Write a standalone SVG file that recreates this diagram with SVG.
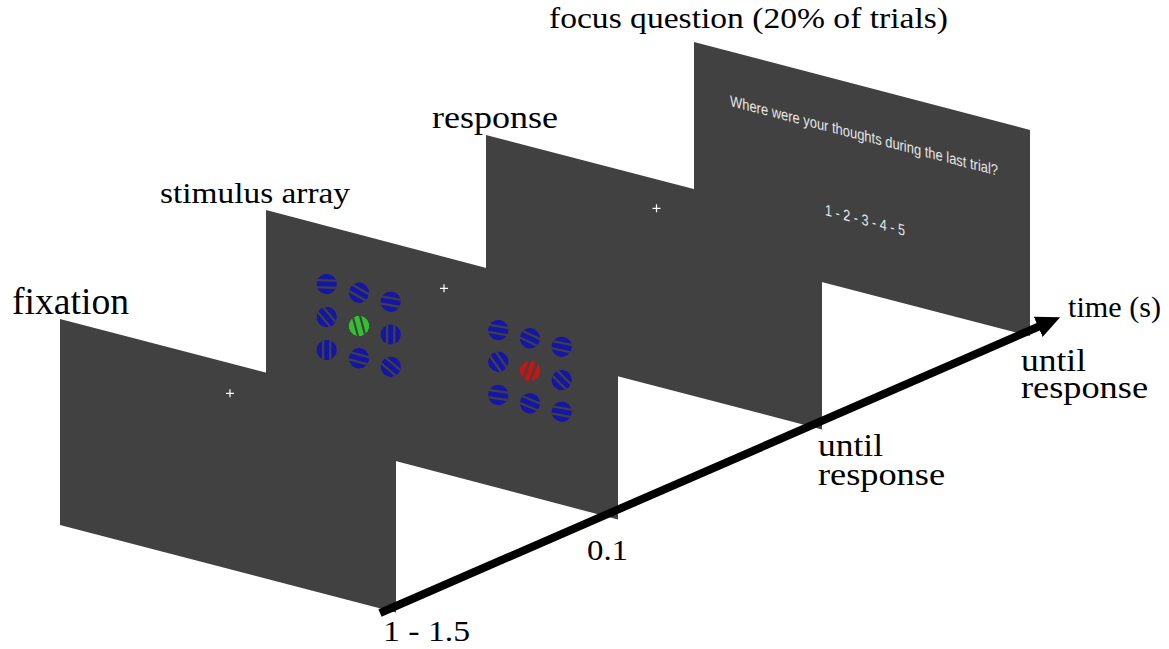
<svg xmlns="http://www.w3.org/2000/svg" width="1169" height="649" viewBox="0 0 1169 649">
<style>
.panel{fill:#414141}
.lbl{font-family:"Liberation Serif","Times New Roman",serif;fill:#000}
.scr{font-family:"Liberation Sans",Arial,sans-serif;fill:#e6e6e6}
.cross{stroke:#ffffff;stroke-width:1.2;fill:none}
</style>
<defs>
<clipPath id="cc"><circle r="10.3"/></clipPath>
<g id="gb" clip-path="url(#cc)"><circle r="10.3" fill="#1616a6"/><path d="M-11,-3.6H11M-11,3.6H11" stroke="#414141" stroke-width="2.2"/></g>
<g id="gg" clip-path="url(#cc)"><circle r="10.3" fill="#30c030"/><path d="M-11,-3.6H11M-11,3.6H11" stroke="#414141" stroke-width="2.2"/></g>
<g id="gr" clip-path="url(#cc)"><circle r="10.3" fill="#c81414"/><path d="M-11,-3.6H11M-11,3.6H11" stroke="#414141" stroke-width="2.6"/></g>
<marker id="ah" markerUnits="userSpaceOnUse" markerWidth="26" markerHeight="24" refX="2" refY="11" orient="auto"><path d="M0,0L24,11L0,22z" fill="#000"/></marker>
</defs>

<g id="focus-question">
<polygon class="panel" points="694,42 1030,130 1030,336 694,249"/>
<text class="scr" font-size="15.5" transform="translate(730,106) skewY(14.6)" textLength="268" lengthAdjust="spacingAndGlyphs">Where were your thoughts during the last trial?</text>
<text class="scr" font-size="15.5" transform="translate(825,215) skewY(14.6)" textLength="80" lengthAdjust="spacingAndGlyphs">1 - 2 - 3 - 4 - 5</text>
<text class="lbl" x="549" y="28" font-size="30" textLength="399" lengthAdjust="spacingAndGlyphs">focus question (20% of trials)</text>
</g>

<g id="response">
<polygon class="panel" points="486,135 822,222.4 822,429.4 486,342"/>
<path class="cross" d="M652.5,208.3h8M656.5,204.3v8"/>
<text class="lbl" x="432" y="128" font-size="31" textLength="126" lengthAdjust="spacingAndGlyphs">response</text>
</g>

<g id="stimulus-array">
<polygon class="panel" points="266,210 618,302.6 618,519.5 266,427"/>
<path class="cross" d="M440,288.3h8M444,284.3v8"/>
<use href="#gb" transform="translate(326.7,284) rotate(2)"/>
<use href="#gb" transform="translate(359,292.7) rotate(30)"/>
<use href="#gb" transform="translate(390.7,301.7) rotate(10)"/>
<use href="#gb" transform="translate(326.7,317) rotate(50)"/>
<use href="#gg" transform="translate(359,326) rotate(75)"/>
<use href="#gb" transform="translate(390.7,334.5) rotate(90)"/>
<use href="#gb" transform="translate(326.7,350) rotate(90)"/>
<use href="#gb" transform="translate(359,358.3) rotate(15)"/>
<use href="#gb" transform="translate(390.7,366.7) rotate(40)"/>
<use href="#gb" transform="translate(498.3,330) rotate(10)"/>
<use href="#gb" transform="translate(530,338.3) rotate(25)"/>
<use href="#gb" transform="translate(561.7,346.7) rotate(12)"/>
<use href="#gb" transform="translate(498.3,361.7) rotate(55)"/>
<use href="#gr" transform="translate(530,371) rotate(-70)"/>
<use href="#gb" transform="translate(561.7,380) rotate(45)"/>
<use href="#gb" transform="translate(498.3,395) rotate(8)"/>
<use href="#gb" transform="translate(530,403.3) rotate(22)"/>
<use href="#gb" transform="translate(561.7,411.7) rotate(10)"/>
<text class="lbl" x="160" y="203" font-size="30" textLength="190" lengthAdjust="spacingAndGlyphs">stimulus array</text>
</g>

<g id="fixation">
<polygon class="panel" points="60,319 396,406.4 396,612.5 60,525"/>
<path class="cross" d="M226,393.3h8M230,389.3v8"/>
<rect x="351" y="453.5" width="1.4" height="3" fill="#3d3d55"/>
<rect x="351" y="481.5" width="1.4" height="3.5" fill="#3a3a62"/>
<rect x="351" y="511" width="1.4" height="3" fill="#3d3d55"/>
<text class="lbl" x="12" y="314" font-size="38" textLength="117" lengthAdjust="spacingAndGlyphs">fixation</text>
</g>

<g id="connectors">
<line x1="380" y1="613" x2="1040" y2="326" stroke="#000" stroke-width="8" marker-end="url(#ah)"/>
</g>

<g id="time-labels">
<text class="lbl" x="1068" y="317" font-size="30" textLength="93" lengthAdjust="spacingAndGlyphs">time (s)</text>
<text class="lbl" x="383" y="641" font-size="30" textLength="87" lengthAdjust="spacingAndGlyphs">1 - 1.5</text>
<text class="lbl" x="587" y="560" font-size="30" textLength="41" lengthAdjust="spacingAndGlyphs">0.1</text>
<text class="lbl" font-size="31"><tspan x="818" y="456" textLength="65" lengthAdjust="spacingAndGlyphs">until</tspan><tspan x="818" y="485" textLength="127" lengthAdjust="spacingAndGlyphs">response</tspan></text>
<text class="lbl" font-size="31"><tspan x="1021" y="371" textLength="65" lengthAdjust="spacingAndGlyphs">until</tspan><tspan x="1021" y="398" textLength="127" lengthAdjust="spacingAndGlyphs">response</tspan></text>
</g>
</svg>
